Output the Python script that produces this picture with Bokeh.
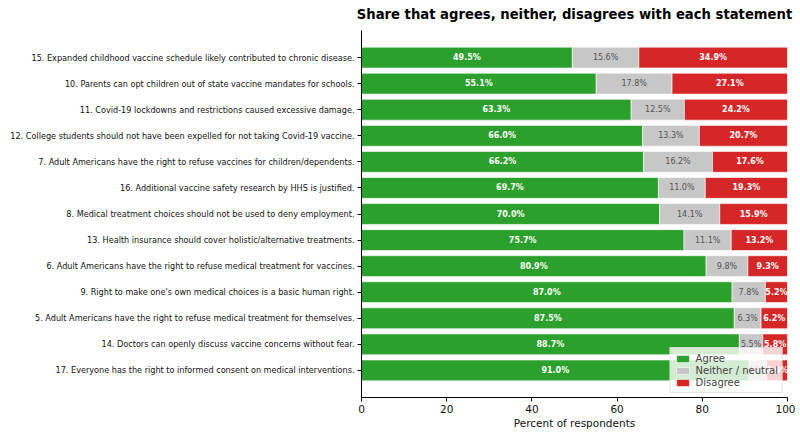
from bokeh.plotting import figure
from bokeh.models import ColumnDataSource, FactorRange, Range1d, LinearAxis, FixedTicker
from bokeh.core.properties import value
from bokeh.embed import file_html
from bokeh.resources import INLINE

statements = [
    "15. Expanded childhood vaccine schedule likely contributed to chronic disease.",
    "10. Parents can opt children out of state vaccine mandates for schools.",
    "11. Covid-19 lockdowns and restrictions caused excessive damage.",
    "12. College students should not have been expelled for not taking Covid-19 vaccine.",
    "7. Adult Americans have the right to refuse vaccines for children/dependents.",
    "16. Additional vaccine safety research by HHS is justified.",
    "8. Medical treatment choices should not be used to deny employment.",
    "13. Health insurance should cover holistic/alternative treatments.",
    "6. Adult Americans have the right to refuse medical treatment for vaccines.",
    "9. Right to make one's own medical choices is a basic human right.",
    "5. Adult Americans have the right to refuse medical treatment for themselves.",
    "14. Doctors can openly discuss vaccine concerns without fear.",
    "17. Everyone has the right to informed consent on medical interventions.",
]
agree = [49.5, 55.1, 63.3, 66.0, 66.2, 69.7, 70.0, 75.7, 80.9, 87.0, 87.5, 88.7, 91.0]
neutral = [15.6, 17.8, 12.5, 13.3, 16.2, 11.0, 14.1, 11.1, 9.8, 7.8, 6.3, 5.5, 4.1]
disagree = [34.9, 27.1, 24.2, 20.7, 17.6, 19.3, 15.9, 13.2, 9.3, 5.2, 6.2, 5.8, 4.9]
x_ticks = [0, 20, 40, 60, 80, 100]
title_text = "Share that agrees, neither, disagrees with each statement"

GREEN = "#2ca02c"
GRAY = "#c7c7c7"
RED = "#d62728"
FONT = "DejaVu Sans"

src = ColumnDataSource(dict(
    statement=statements,
    agree=agree,
    neutral=neutral,
    disagree=disagree,
    agree_mid=[a / 2 for a in agree],
    neutral_mid=[a + n / 2 for a, n in zip(agree, neutral)],
    disagree_mid=[a + n + d / 2 for a, n, d in zip(agree, neutral, disagree)],
    agree_lbl=[f"{v:.1f}%" for v in agree],
    neutral_lbl=[f"{v:.1f}%" for v in neutral],
    disagree_lbl=[f"{v:.1f}%" for v in disagree],
))

pad = 0.54  # per side, in category units
p = figure(
    frame_width=426, frame_height=367,
    y_range=FactorRange(factors=list(reversed(statements)), range_padding=pad,
                        range_padding_units="absolute"),
    x_range=Range1d(0, 100),
    output_backend="svg", toolbar_location=None,
    min_border_left=361, min_border_right=8, min_border_top=30, min_border_bottom=0,
)

r = p.hbar_stack(["agree", "neutral", "disagree"], y="statement", height=0.8,
                 color=[GREEN, GRAY, RED], line_color="white", line_width=0.6,
                 source=src, legend_label=["Agree", "Neither / neutral", "Disagree"])

p.text(x="agree_mid", y="statement", text="agree_lbl", source=src,
       text_align="center", text_baseline="middle", text_color="white",
       text_font=value(FONT), text_font_size="8px", text_font_style="bold")
p.text(x="neutral_mid", y="statement", text="neutral_lbl", source=src,
       text_align="center", text_baseline="middle", text_color="#555555",
       text_font=value(FONT), text_font_size="8px")
p.text(x="disagree_mid", y="statement", text="disagree_lbl", source=src,
       text_align="center", text_baseline="middle", text_color="white",
       text_font=value(FONT), text_font_size="8px", text_font_style="bold")

# title: drawn as the label of an invisible top axis, centred over the plot area
top = LinearAxis(ticker=FixedTicker(ticks=[]), axis_label=title_text,
                 axis_line_color=None, major_tick_line_color=None,
                 minor_tick_line_color=None, major_tick_out=0, major_tick_in=0,
                 minor_tick_out=0, minor_tick_in=0,
                 major_label_text_font_size="1px", major_label_text_color=None,
                 major_label_standoff=0,
                 axis_label_standoff=9,
                 axis_label_text_font=FONT, axis_label_text_font_size="13.2px",
                 axis_label_text_font_style="bold", axis_label_text_color="black")
p.add_layout(top, "above")

p.xgrid.visible = False
p.ygrid.visible = False
p.outline_line_color = None

p.xaxis[0].ticker = x_ticks
xa = p.below[0]
xa.axis_label = "Percent of respondents"
xa.axis_label_text_font = FONT
xa.axis_label_text_font_size = "10.5px"
xa.axis_label_text_font_style = "normal"
xa.axis_label_text_color = "#111111"
xa.axis_label_standoff = 1
xa.major_label_text_font = FONT
xa.major_label_text_font_size = "10.5px"
xa.major_label_standoff = 3
xa.minor_tick_line_color = None
xa.major_tick_in = 0
xa.major_tick_out = 4

ya = p.left[0]
ya.major_label_text_font = FONT
ya.major_label_text_font_size = "8.15px"
ya.major_label_standoff = 3
ya.major_tick_in = 0
ya.major_tick_out = 4
ya.minor_tick_line_color = None

for ax in (xa, ya):
    ax.axis_line_color = "black"
    ax.major_tick_line_color = "black"
    ax.major_label_text_color = "#111111"

lg = p.legend[0]
lg.location = "bottom_right"
lg.margin = 4
lg.padding = 4
lg.spacing = 0
lg.label_text_font = FONT
lg.label_text_font_size = "10px"
lg.label_height = 12
lg.label_standoff = 5
lg.glyph_height = 9
lg.glyph_width = 16
lg.background_fill_alpha = 0.8
lg.border_line_color = "#cccccc"

open("out.html", "w").write(file_html(p, INLINE))
